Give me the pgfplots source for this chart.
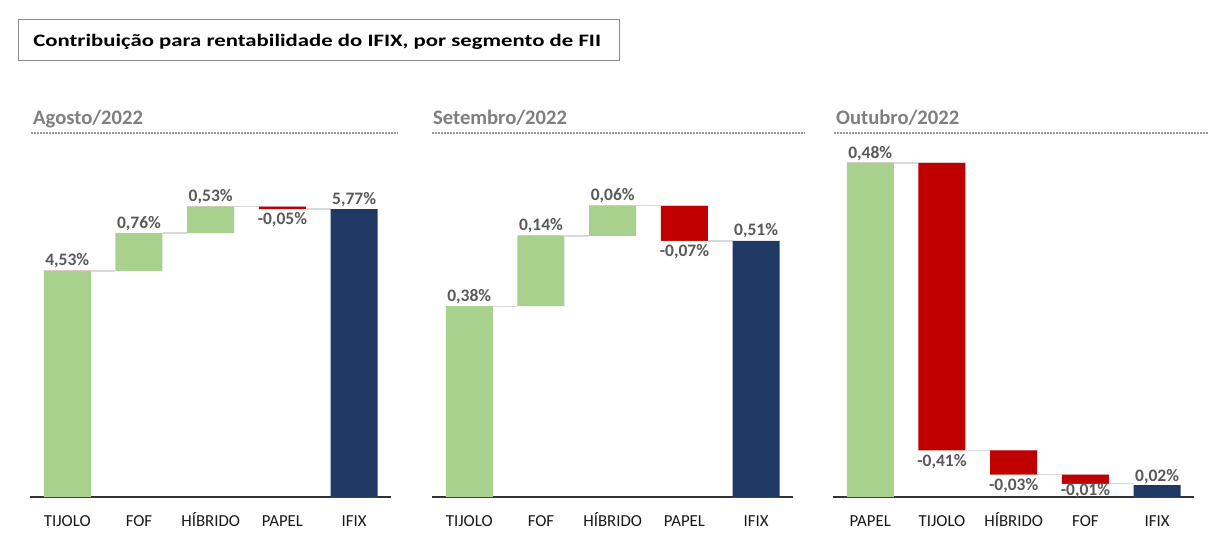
\documentclass[border=0pt]{standalone}
\usepackage{fontspec}
\setmainfont{Carlito}
\usepackage{pgfplots}
\pgfplotsset{compat=1.18}
\definecolor{wgreen}{HTML}{A9D18E}
\definecolor{wred}{HTML}{C00000}
\definecolor{wnavy}{HTML}{203864}
\definecolor{lblgray}{HTML}{595959}
\definecolor{ttlgray}{HTML}{7F7F7F}
\definecolor{connc}{HTML}{D9D9D9}
\newcommand{\lblfont}{\fontsize{17.5bp}{19bp}\selectfont\bfseries}
\pgfplotsset{
  wf/.style={
    x=71.7bp, xmin=-0.52, xmax=4.52, ymin=0,
    axis x line=bottom, axis y line=none,
    axis line style={draw=black!80, line width=1.3bp, -},
    xtick={0,1,2,3,4}, major tick length=0pt,
    xticklabel style={font=\fontsize{16.8bp}{18bp}\selectfont, text=black!90, anchor=base, yshift=-29bp, inner sep=0pt},
    ytick=\empty,
    clip=false,
    stack plots=y,
    anchor=south west,
  },
  bars/.style={ybar, bar shift=0pt, bar width=47bp, draw=none, fill=#1},
  conn/.style={stack plots=false, sharp plot, draw=connc, line width=1.3bp, mark=none},
  lbl/.style={stack plots=false, sharp plot, draw=none, fill=none, mark=none, nodes near coords, point meta=explicit symbolic,
    every node near coord/.append style={font=\lblfont, text=lblgray, anchor=base, inner sep=0pt, yshift=#1}},
}
\begin{document}
\begin{tikzpicture}
\useasboundingbox[fill=white] (0,0) rectangle (1218bp,548bp);
% main title
\draw[draw=black!45, line width=1bp] (18bp,528bp) rectangle (619bp,487bp);
\node[anchor=base west, inner sep=0pt, xscale=1.3, font=\fontsize{17.5bp}{20bp}\selectfont\bfseries, text=black] at (33bp,501.5bp) {Contribuição para rentabilidade do IFIX, por segmento de FII};
% panel titles
\node[anchor=base west, inner sep=0pt, font=\fontsize{20.6bp}{24bp}\selectfont\bfseries, text=ttlgray] at (33bp,423bp) {Agosto/2022};
\node[anchor=base west, inner sep=0pt, font=\fontsize{20.6bp}{24bp}\selectfont\bfseries, text=ttlgray] at (433bp,423bp) {Setembro/2022};
\node[anchor=base west, inner sep=0pt, font=\fontsize{20.6bp}{24bp}\selectfont\bfseries, text=ttlgray] at (836bp,423bp) {Outubro/2022};
\draw[black!40, line width=1.6bp, dash pattern=on 1.6bp off 1.4bp] (31bp,415bp) -- (398bp,415bp);
\draw[black!40, line width=1.6bp, dash pattern=on 1.6bp off 1.4bp] (432bp,415bp) -- (805bp,415bp);
\draw[black!40, line width=1.6bp, dash pattern=on 1.6bp off 1.4bp] (834bp,415bp) -- (1208bp,415bp);

% ---------- Agosto ----------
\begin{axis}[wf, at={(30bp,51bp)}, y=49.9bp, ymax=6.5,
  xticklabels={TIJOLO,FOF,HÍBRIDO,PAPEL,IFIX}]
\addplot[bars=none] coordinates {(0,0) (1,4.53) (2,5.29) (3,5.77) (4,0)};
\addplot[bars=wgreen] coordinates {(0,4.53) (1,0.76) (2,0.53) (3,0) (4,0)};
\addplot[bars=wred] coordinates {(0,0) (1,0) (2,0) (3,0.05) (4,0)};
\addplot[bars=wnavy] coordinates {(0,0) (1,0) (2,0) (3,0) (4,5.77)};
\addplot[conn] coordinates {(0.328,4.53) (0.672,4.53)};
\addplot[conn] coordinates {(1.328,5.29) (1.672,5.29)};
\addplot[conn] coordinates {(2.328,5.82) (2.672,5.82)};
\addplot[conn] coordinates {(3.328,5.77) (3.672,5.77)};
\addplot[lbl=5bp] coordinates {(0,4.53)[4,53\%] (1,5.29)[0,76\%] (2,5.82)[0,53\%] (4,5.77)[5,77\%]};
\addplot[lbl=-15bp] coordinates {(3,5.77)[-0,05\%]};
\end{axis}

% ---------- Setembro ----------
\begin{axis}[wf, at={(432bp,51bp)}, y=502bp, ymax=0.65,
  xticklabels={TIJOLO,FOF,HÍBRIDO,PAPEL,IFIX}]
\addplot[bars=none] coordinates {(0,0) (1,0.38) (2,0.52) (3,0.51) (4,0)};
\addplot[bars=wgreen] coordinates {(0,0.38) (1,0.14) (2,0.06) (3,0) (4,0)};
\addplot[bars=wred] coordinates {(0,0) (1,0) (2,0) (3,0.07) (4,0)};
\addplot[bars=wnavy] coordinates {(0,0) (1,0) (2,0) (3,0) (4,0.51)};
\addplot[conn] coordinates {(0.328,0.38) (0.672,0.38)};
\addplot[conn] coordinates {(1.328,0.52) (1.672,0.52)};
\addplot[conn] coordinates {(2.328,0.58) (2.672,0.58)};
\addplot[conn] coordinates {(3.328,0.51) (3.672,0.51)};
\addplot[lbl=5bp] coordinates {(0,0.38)[0,38\%] (1,0.52)[0,14\%] (2,0.58)[0,06\%] (4,0.51)[0,51\%]};
\addplot[lbl=-16bp] coordinates {(3,0.51)[-0,07\%]};
\end{axis}

% ---------- Outubro ----------
\begin{axis}[wf, at={(833bp,51bp)}, y=696bp, ymax=0.5,
  xticklabels={PAPEL,TIJOLO,HÍBRIDO,FOF,IFIX}]
\addplot[bars=none] coordinates {(0,0) (1,0.067) (2,0.032) (3,0.019) (4,0)};
\addplot[bars=wgreen] coordinates {(0,0.48) (1,0) (2,0) (3,0) (4,0)};
\addplot[bars=wred] coordinates {(0,0) (1,0.413) (2,0.035) (3,0.013) (4,0)};
\addplot[bars=wnavy] coordinates {(0,0) (1,0) (2,0) (3,0) (4,0.017)};
\addplot[conn] coordinates {(0.328,0.48) (0.672,0.48)};
\addplot[conn] coordinates {(1.328,0.067) (1.672,0.067)};
\addplot[conn] coordinates {(2.328,0.032) (2.672,0.032)};
\addplot[conn] coordinates {(3.328,0.019) (3.672,0.019)};
\addplot[lbl=4bp] coordinates {(0,0.48)[0,48\%] (4,0.017)[0,02\%]};
\addplot[lbl=-16bp] coordinates {(1,0.067)[-0,41\%] (2,0.032)[-0,03\%]};
\addplot[lbl=-12bp] coordinates {(3,0.019)[-0,01\%]};
\end{axis}
\end{tikzpicture}
\end{document}
